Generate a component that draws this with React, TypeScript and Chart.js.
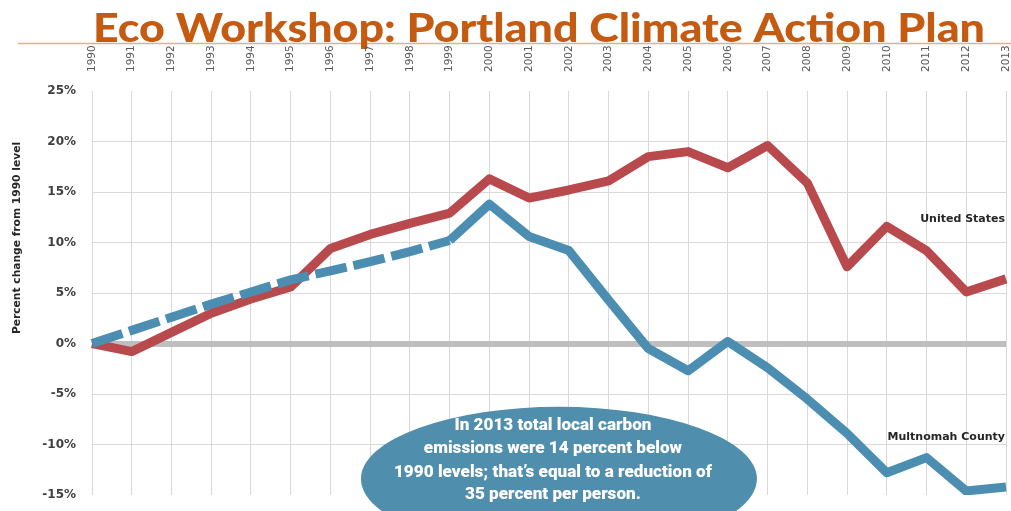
import React, { useEffect, useRef } from "react";
import { Chart, registerables } from "chart.js";

Chart.register(...registerables);

const years = [
  "1990", "1991", "1992", "1993", "1994", "1995", "1996", "1997", "1998", "1999",
  "2000", "2001", "2002", "2003", "2004", "2005", "2006", "2007", "2008", "2009",
  "2010", "2011", "2012", "2013",
];

const unitedStates = [
  0, -0.8, 1.1, 3.0, 4.4, 5.6, 9.4, 10.8, 11.9, 12.9,
  16.3, 14.4, 15.2, 16.1, 18.5, 19.0, 17.4, 19.6, 15.9, 7.6,
  11.6, 9.2, 5.1, 6.4,
];

const multnomahCounty = [
  0, 1.3, 2.6, 3.9, 5.1, 6.3, 7.2, 8.1, 9.1, 10.2,
  13.8, 10.6, 9.2, 4.3, -0.5, -2.7, 0.2, -2.4, -5.5, -8.9,
  -12.8, -11.3, -14.6, -14.2,
];

const yTicks = [25, 20, 15, 10, 5, 0, -5, -10, -15];

const titleText = "Eco Workshop: Portland Climate Action Plan";
const yAxisTitle = "Percent change from 1990 level";
const seriesNames = ["United States", "Multnomah County"];
const calloutLines = [
  "In 2013 total local carbon",
  "emissions were 14 percent below",
  "1990 levels; that\u2019s equal to a reduction of",
  "35 percent per person.",
];

const RED = "#b8494d";
const BLUE = "#4b8eb2";

const overlayPlugin = {
  id: "overlay",
  beforeDraw(chart: any) {
    const ctx = chart.ctx;
    ctx.save();
    ctx.fillStyle = "#ffffff";
    ctx.fillRect(0, 0, chart.width, chart.height);
    // decorative line under title
    ctx.strokeStyle = "#e2b08c";
    ctx.lineWidth = 1.5;
    ctx.beginPath();
    ctx.moveTo(18, 43.5);
    ctx.lineTo(chart.width, 43.5);
    ctx.stroke();
    // title
    ctx.font = "900 40px Lato";
    const w = ctx.measureText(titleText).width;
    ctx.translate(93, 42);
    ctx.scale(892 / w, 1);
    ctx.fillStyle = "#c55a11";
    ctx.textBaseline = "alphabetic";
    ctx.textAlign = "left";
    ctx.fillText(titleText, 0, 0);
    ctx.restore();

    // y-axis title
    ctx.save();
    ctx.translate(17, 238);
    ctx.rotate(-Math.PI / 2);
    ctx.font = "bold 10.7px 'DejaVu Sans'";
    ctx.textAlign = "center";
    ctx.textBaseline = "middle";
    ctx.fillStyle = "#262626";
    ctx.fillText(yAxisTitle, 0, 0);
    ctx.restore();

    // x-axis (top) year labels
    const xs = chart.scales.x;
    ctx.save();
    ctx.font = "10.5px 'DejaVu Sans'";
    ctx.fillStyle = "#595959";
    ctx.textAlign = "left";
    ctx.textBaseline = "middle";
    years.forEach((yr, i) => {
      ctx.save();
      ctx.translate(xs.getPixelForValue(i), 72);
      ctx.rotate(-Math.PI / 2);
      ctx.fillText(yr, 0, 0);
      ctx.restore();
    });
    ctx.restore();
  },
  afterDatasetsDraw(chart: any) {
    const ctx = chart.ctx;
    const xs = chart.scales.x;
    const ys = chart.scales.y;
    const area = chart.chartArea;

    // series labels
    ctx.save();
    ctx.font = "bold 11px 'DejaVu Sans'";
    ctx.fillStyle = "#262626";
    ctx.textAlign = "right";
    ctx.textBaseline = "middle";
    ctx.fillText(seriesNames[0], area.right - 1, ys.getPixelForValue(12.3));
    ctx.fillText(seriesNames[1], area.right - 1, ys.getPixelForValue(-9.3));
    ctx.restore();

    // callout ellipse
    const cx = xs.getPixelForValue(11.75);
    const cy = ys.getPixelForValue(-13.4);
    ctx.save();
    ctx.fillStyle = "#508ead";
    ctx.beginPath();
    ctx.ellipse(cx, cy, 198, 72, 0, 0, Math.PI * 2);
    ctx.fill();
    ctx.font = "900 16.5px Roboto";
    const refW = ctx.measureText(calloutLines[2]).width;
    const sx = 318 / refW;
    ctx.fillStyle = "#ffffff";
    ctx.textAlign = "center";
    ctx.textBaseline = "middle";
    const tx = cx - 6;
    const offs = [-53, -30, -6, 16];
    calloutLines.forEach((line, i) => {
      ctx.save();
      ctx.translate(tx, cy + offs[i]);
      ctx.scale(sx, 1);
      ctx.fillText(line, 0, 0);
      ctx.restore();
    });
    ctx.restore();
  },
};

export default function App() {
  const canvasRef = useRef<HTMLCanvasElement | null>(null);

  useEffect(() => {
    if (!canvasRef.current) return;
    const chart = new Chart(canvasRef.current, {
      type: "line",
      data: {
        labels: years,
        datasets: [
          {
            label: seriesNames[1],
            data: multnomahCounty,
            borderColor: BLUE,
            borderWidth: 9,
            pointRadius: 0,
            tension: 0,
            fill: false,
            borderJoinStyle: "round",
            borderCapStyle: "butt",
            segment: {
              borderDash: (c: any) => (c.p1DataIndex <= 9 ? [32, 7] : undefined),
            },
          },
          {
            label: seriesNames[0],
            data: unitedStates,
            borderColor: RED,
            borderWidth: 9,
            pointRadius: 0,
            tension: 0,
            fill: false,
            borderJoinStyle: "round",
            borderCapStyle: "butt",
          },
        ],
      },
      options: {
        animation: false,
        responsive: true,
        maintainAspectRatio: false,
        layout: { padding: { left: 0, top: 0, right: 5, bottom: 16 } },
        plugins: {
          legend: { display: false },
          tooltip: { enabled: false },
          title: { display: false },
        },
        scales: {
          x: {
            type: "category",
            position: "top",
            offset: false,
            afterFit: (s: any) => {
              s.height = 91;
              s.paddingLeft = 0;
              s.paddingRight = 0;
              s.paddingTop = 0;
              s.paddingBottom = 0;
            },
            grid: { color: "#d9d9d9", lineWidth: 1, drawTicks: false },
            border: { display: false },
            ticks: { display: false, autoSkip: false },
          },
          y: {
            type: "linear",
            min: -15,
            max: 25,
            afterFit: (s: any) => {
              s.width = 92;
              s.paddingLeft = 0;
              s.paddingRight = 0;
              s.paddingTop = 0;
              s.paddingBottom = 0;
            },
            afterBuildTicks: (s: any) => {
              s.ticks = yTicks.map((v) => ({ value: v }));
            },
            grid: {
              drawTicks: false,
              color: (c: any) =>
                c.tick && (c.tick.value === 25 || c.tick.value === -15)
                  ? "rgba(0,0,0,0)"
                  : c.tick && c.tick.value === 0
                  ? "#bfbfbf"
                  : "#d9d9d9",
              lineWidth: (c: any) => (c.tick && c.tick.value === 0 ? 6 : 1),
            },
            border: { display: false },
            ticks: {
              padding: 16,
              color: "#404040",
              font: { family: "'DejaVu Sans'", size: 12, weight: "bold" },
              callback: (v: any) => v + "%",
            },
          },
        },
      },
      plugins: [overlayPlugin],
    });
    return () => chart.destroy();
  }, []);

  return (
    <div
      style={{
        position: "fixed",
        left: 0,
        top: 0,
        width: 1011,
        height: 511,
        overflow: "hidden",
        background: "#fff",
      }}
    >
      <canvas ref={canvasRef} />
    </div>
  );
}
